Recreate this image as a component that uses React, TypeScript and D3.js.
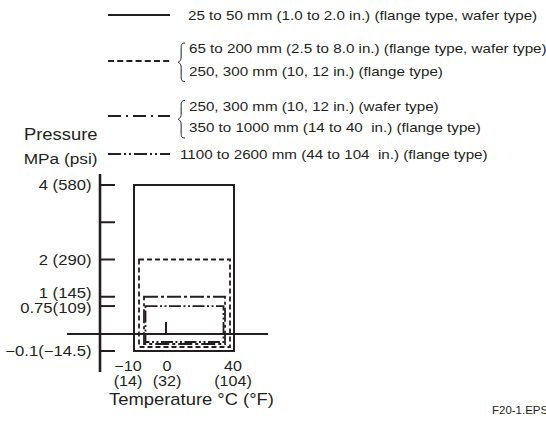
import React from "react";
import * as d3 from "d3";

// ---- data ----
const seriesNames = ["25-50", "65-300", "250-1000", "1100-2600"];
const legendLines: string[][] = [
  ["25 to 50 mm (1.0 to 2.0 in.) (flange type, wafer type)"],
  ["65 to 200 mm (2.5 to 8.0 in.) (flange type, wafer type)", "250, 300 mm (10, 12 in.) (flange type)"],
  ["250, 300 mm (10, 12 in.) (wafer type)", "350 to 1000 mm (14 to 40  in.) (flange type)"],
  ["1100 to 2600 mm (44 to 104  in.) (flange type)"],
];
const tempMin = [-10, -10, -10, -10];
const tempMax = [40, 40, 40, 40];
const pressMin = [-0.1, -0.1, -0.1, -0.1];
const pressMax = [4, 2, 1, 0.75];

const yTicks = [4, 3, 2, 1, 0.75, -0.1];
const yTickLabels = ["4 (580)", "", "2 (290)", "1 (145)", "0.75(109)", "\u22120.1(\u221214.5)"];
const xTicks = [-10, 0, 40];
const xTickLabelsC = ["\u221210", "0", "40"];
const xTickLabelsF = ["(14)", "(32)", "(104)"];

// ---- styles ----
const INK = "#231f20";
const FONT = "'Liberation Sans', Arial, Helvetica, sans-serif";
const SX = 1.15;
const chartDash = ["", "5 3", "14 3 3 3", "12 2.5 2 2.5 2 2.5"];
const legendDash = ["", "6 3.2", "13 5 2 5", "13 3 2 3 2 3"];
const insetL = [0, 5, 10, 11.5];
const insetR = [0, 4, 9, 10.5];
const insetB = [0, 4, 7, 9];
const legendY = [15, 61, 116, 154];
const legendTextY = [[20], [53, 75.5], [110.5, 132], [158.5]];
const legendTextX = [188, 189, 189, 180];
const xLabelDx = [-6, 1, -1];
const yLabelDy = [0, 0, 0, -4, 1.5, 0];

const Txt: React.FC<{ x: number; y: number; size: number; anchor?: string; children: React.ReactNode }> = ({
  x, y, size, anchor = "start", children,
}) => (
  <text
    transform={`translate(${x},${y}) scale(${SX},1)`}
    fontSize={size}
    fontFamily={FONT}
    fill={INK}
    textAnchor={anchor as any}
    style={{ whiteSpace: "pre" }}
  >
    {children}
  </text>
);

function brace(x: number, y0: number, y1: number) {
  const m = (y0 + y1) / 2;
  const w = 7;
  const xm = x + w * 0.45;
  return `M${x + w},${y0} C${xm},${y0} ${xm},${y0 + 2} ${xm},${y0 + 6} L${xm},${m - 5} C${xm},${m - 1} ${x},${m} ${x},${m} C${x},${m} ${xm},${m + 1} ${xm},${m + 5} L${xm},${y1 - 6} C${xm},${y1 - 2} ${xm},${y1} ${x + w},${y1}`;
}

export default function App() {
  const W = 546, H = 423;
  const x = d3.scaleLinear().domain([-10, 0, 40]).range([134, 166, 234]);
  const y = d3.scaleLinear().domain([-0.1, 0, 4]).range([351, 334, 185]);
  const axisX = 100;

  return (
    <svg width={W} height={H} style={{ position: "absolute", left: 0, top: 0, display: "block", background: "#fff" }}>
      {/* legend */}
      {seriesNames.map((s, i) => (
        <g key={s}>
          <line x1={108} x2={170} y1={legendY[i]} y2={legendY[i]} stroke={INK} strokeWidth={1.8}
            strokeDasharray={legendDash[i] || undefined} />
          {legendLines[i].length > 1 && (
            <path d={brace(178, legendTextY[i][0] - 10, legendTextY[i][1] + 6)} fill="none" stroke={INK} strokeWidth={1} />
          )}
          {legendLines[i].map((t, j) => (
            <Txt key={j} x={legendTextX[i]} y={legendTextY[i][j]} size={13.2}>{t}</Txt>
          ))}
        </g>
      ))}

      {/* axis titles */}
      <Txt x={97.5} y={140} size={16} anchor="end">Pressure</Txt>
      <Txt x={97.5} y={164} size={15} anchor="end">MPa (psi)</Txt>

      {/* y axis */}
      <line x1={axisX} x2={axisX} y1={174} y2={372} stroke={INK} strokeWidth={2.6} />
      {yTicks.map((t, i) => (
        <g key={t}>
          <line x1={axisX} x2={axisX + 15} y1={y(t)} y2={y(t)} stroke={INK} strokeWidth={2} />
          {yTickLabels[i] && (
            <Txt x={91.5} y={y(t) + 5 + yLabelDy[i]} size={14.5} anchor="end">{yTickLabels[i]}</Txt>
          )}
        </g>
      ))}

      {/* zero-pressure line */}
      <line x1={67} x2={268} y1={y(0)} y2={y(0)} stroke={INK} strokeWidth={2.2} />
      {/* 0 degC mark */}
      <line x1={x(0)} x2={x(0)} y1={y(0) - 12} y2={y(0)} stroke={INK} strokeWidth={2} />

      {/* ranges */}
      {seriesNames.map((s, i) => {
        const x0 = x(tempMin[i]) + insetL[i];
        const x1 = x(tempMax[i]) - insetR[i];
        const y0 = y(pressMax[i]);
        const y1 = y(pressMin[i]) - insetB[i];
        return (
          <rect key={s} x={x0} y={y0} width={x1 - x0} height={y1 - y0} fill="none" stroke={INK}
            strokeWidth={i === 0 ? 2 : 1.8} strokeDasharray={chartDash[i] || undefined} />
        );
      })}

      {/* x labels */}
      {xTicks.map((t, i) => (
        <g key={t}>
          <Txt x={x(t) + xLabelDx[i]} y={371} size={14} anchor="middle">{xTickLabelsC[i]}</Txt>
          <Txt x={x(t) + xLabelDx[i]} y={386} size={14} anchor="middle">{xTickLabelsF[i]}</Txt>
        </g>
      ))}
      <Txt x={109} y={405} size={16}>Temperature °C (°F)</Txt>

      <Txt x={492} y={414} size={10}>F20-1.EPS</Txt>
    </svg>
  );
}
